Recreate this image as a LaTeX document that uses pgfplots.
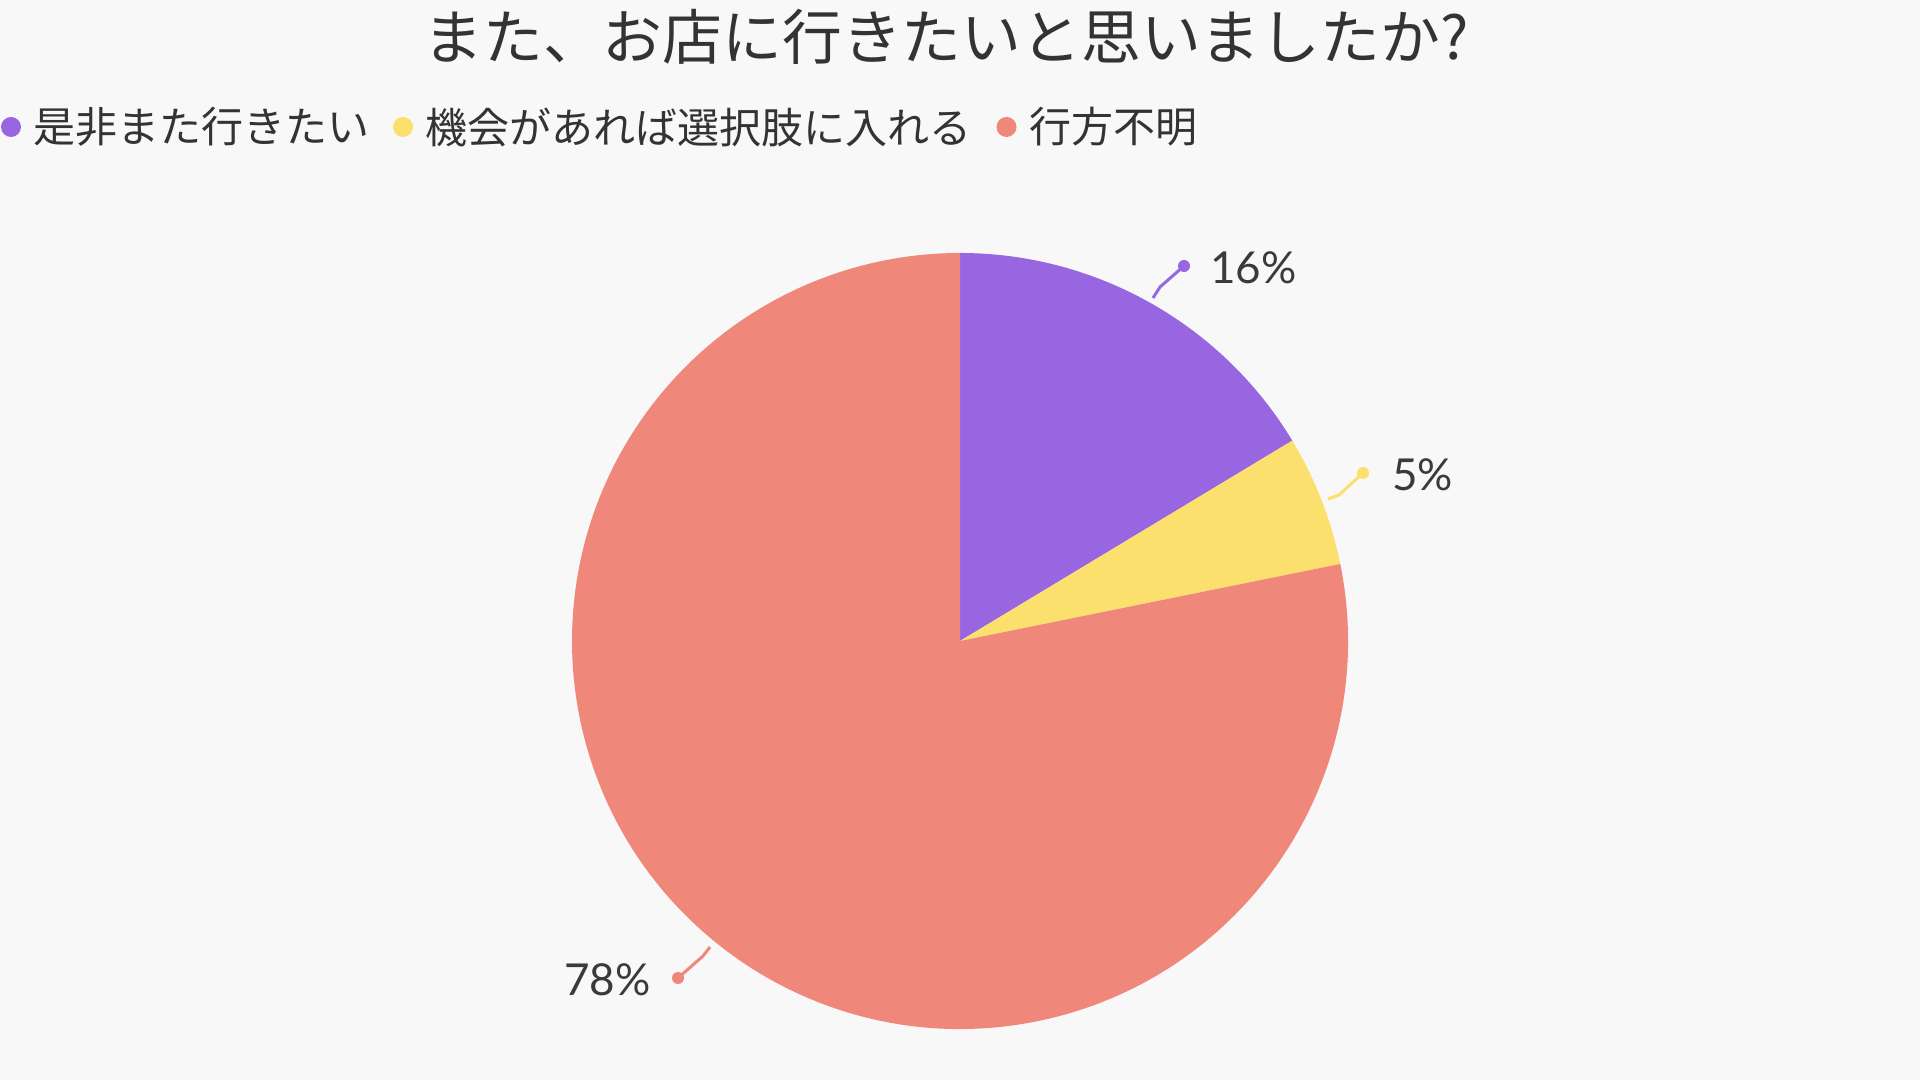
\documentclass[border=0pt]{standalone}
\usepackage{fontspec}
\setmainfont{Lato}
\newfontfamily\jp{Noto Sans CJK JP}
\usepackage{pgfplots}
\usepackage{pgfplotstable}
\pgfplotsset{compat=1.18}
\definecolor{bg}{HTML}{F8F8F8}
\definecolor{cA}{HTML}{9766E0}
\definecolor{cB}{HTML}{FCE06E}
\definecolor{cC}{HTML}{EF877A}
\definecolor{txt}{HTML}{333333}
\definecolor{lbl}{HTML}{3A3A3A}

% responses: 是非また行きたい, 機会があれば選択肢に入れる, 行方不明
\pgfplotstableread{
label count
A 9
B 3
C 43
}\piedata

\begin{document}
\begin{tikzpicture}
\pgfplotstablegetelem{0}{count}\of\piedata \let\va\pgfplotsretval
\pgfplotstablegetelem{1}{count}\of\piedata \let\vb\pgfplotsretval
\pgfplotstablegetelem{2}{count}\of\piedata \let\vc\pgfplotsretval
\pgfmathsetmacro\tot{\va+\vb+\vc}
\pgfmathsetmacro\aA{90}
\pgfmathsetmacro\aB{90-360*\va/\tot}
\pgfmathsetmacro\aC{\aB-360*\vb/\tot}
\pgfmathsetmacro\aD{90-360}
\begin{axis}[
  width=960pt, height=540pt, scale only axis,
  xmin=0, xmax=1920, ymin=0, ymax=1080,
  hide axis, clip=false,
]
\fill[bg] (axis cs:0,0) rectangle (axis cs:1920,1080);
% pie
\fill[cA] (axis cs:960,439) -- ++(\aA:194pt) arc[start angle=\aA, end angle=\aB, radius=194pt] -- cycle;
\fill[cB] (axis cs:960,439) -- ++(\aB:194pt) arc[start angle=\aB, end angle=\aC, radius=194pt] -- cycle;
\fill[cC] (axis cs:960,439) -- ++(\aC:194pt) arc[start angle=\aC, end angle=\aD, radius=194pt] -- cycle;
% leaders
\draw[cA, line width=1.5pt] (axis cs:1153,782) -- (axis cs:1160,793) -- (axis cs:1184,814);
\fill[cA] (axis cs:1184,814) circle[radius=3pt];
\draw[cB, line width=1.5pt] (axis cs:1328,581) -- (axis cs:1339,585) -- (axis cs:1363,607);
\fill[cB] (axis cs:1363,607) circle[radius=3pt];
\draw[cC, line width=1.5pt] (axis cs:710,133) -- (axis cs:703,124) -- (axis cs:678,102);
\fill[cC] (axis cs:678,102) circle[radius=3pt];
% labels
\node[anchor=west, font=\fontsize{22}{26}\selectfont, text=lbl, inner sep=0pt] at (axis cs:1210,812) {16\%};
\node[anchor=west, font=\fontsize{22}{26}\selectfont, text=lbl, inner sep=0pt] at (axis cs:1392,605) {5\%};
\node[anchor=east, font=\fontsize{22}{26}\selectfont, text=lbl, inner sep=0pt] at (axis cs:651,100) {78\%};
% title
\node[font=\jp\fontsize{29.9}{35}\selectfont, text=txt, inner sep=0pt] at (axis cs:946,1043) {また、お店に行きたいと思いましたか?};
% legend
\fill[cA] (axis cs:11,953) circle[radius=5pt];
\node[anchor=west, font=\jp\fontsize{21}{25}\selectfont, text=txt, inner sep=0pt] at (axis cs:33,953) {是非また行きたい};
\fill[cB] (axis cs:403,953) circle[radius=5pt];
\node[anchor=west, font=\jp\fontsize{21}{25}\selectfont, text=txt, inner sep=0pt] at (axis cs:425,953) {機会があれば選択肢に入れる};
\fill[cC] (axis cs:1006.5,953) circle[radius=5pt];
\node[anchor=west, font=\jp\fontsize{21}{25}\selectfont, text=txt, inner sep=0pt] at (axis cs:1029,953) {行方不明};
\end{axis}
\end{tikzpicture}
\end{document}
